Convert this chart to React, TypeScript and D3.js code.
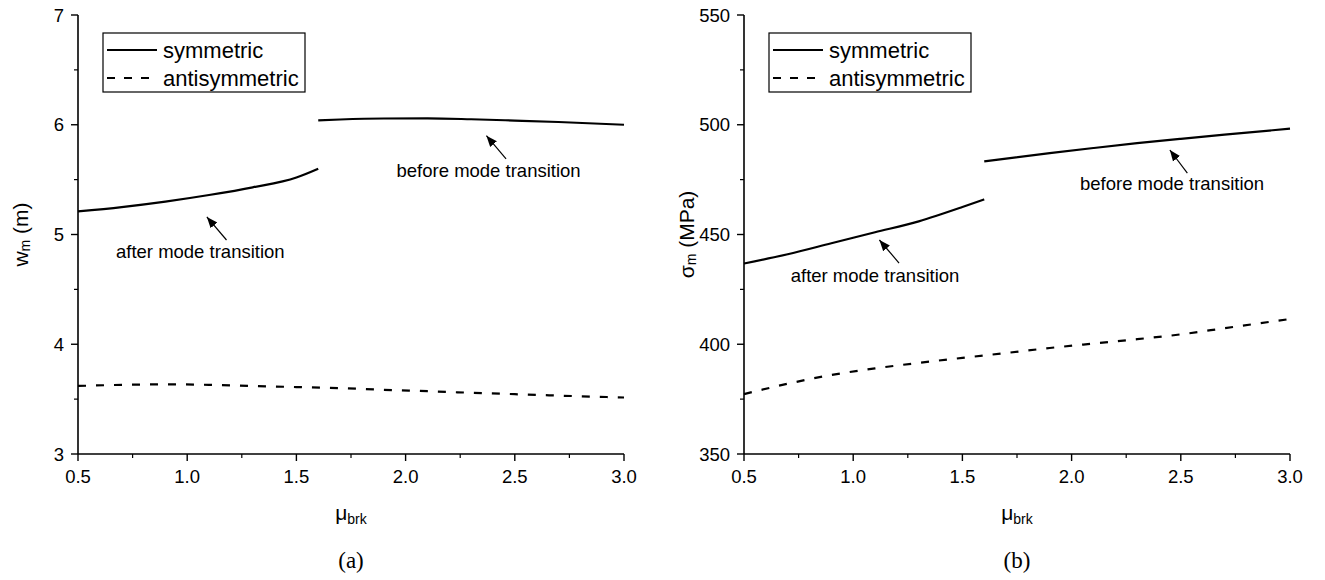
import React from "react";
import * as d3 from "d3";

// Friction coefficient samples for each branch
const muAfter = [0.5, 0.7, 0.9, 1.1, 1.3, 1.5, 1.6];
const muBefore = [1.6, 1.7, 1.9, 2.1, 2.3, 2.5, 2.7, 3.0];
const muAnti = [0.5, 0.7, 0.9, 1.1, 1.3, 1.5, 1.7, 1.9, 2.1, 2.3, 2.5, 2.7, 3.0];

// (a) maximum deflection w_m (m)
const wSymAfter = [5.21, 5.25, 5.3, 5.36, 5.43, 5.52, 5.6];
const wSymBefore = [6.04, 6.048, 6.057, 6.058, 6.05, 6.038, 6.025, 6.0];
const wAnti = [3.62, 3.63, 3.635, 3.63, 3.62, 3.61, 3.6, 3.585, 3.572, 3.558, 3.545, 3.532, 3.515];

// (b) maximum stress σ_m (MPa)
const sSymAfter = [436.8, 441, 446, 451, 456, 462.5, 466];
const sSymBefore = [483.3, 484.6, 487.1, 489.4, 491.6, 493.6, 495.5, 498.2];
const sAnti = [377.3, 382, 386, 389, 391.5, 393.8, 396, 398.3, 400.3, 402.3, 404.5, 407.3, 411.5];

const xTicks = [0.5, 1.0, 1.5, 2.0, 2.5, 3.0];
const xMinor = [0.75, 1.25, 1.75, 2.25, 2.75];
const wTicks = [3, 4, 5, 6, 7];
const wMinor = [3.5, 4.5, 5.5, 6.5];
const sTicks = [350, 400, 450, 500, 550];
const sMinor = [375, 425, 475, 525];

const legendLabels = ["symmetric", "antisymmetric"];

const SANS = "'Liberation Sans', Arial, sans-serif";
const SERIF = "'Liberation Serif', 'Times New Roman', serif";

type Note = { text: string; tx: number; ty: number; x1: number; y1: number; x2: number; y2: number };

type PanelProps = {
  left: number;
  domainY: [number, number];
  yTicks: number[];
  yMinor: number[];
  after: number[];
  before: number[];
  anti: number[];
  yTitle: React.ReactNode;
  tag: string;
  notes: Note[];
  id: string;
};

const TOP = 15;
const BOTTOM = 454;
const WIDTH = 546;

function Panel(p: PanelProps) {
  const x = d3.scaleLinear().domain([0.5, 3.0]).range([p.left, p.left + WIDTH]);
  const y = d3.scaleLinear().domain(p.domainY).range([BOTTOM, TOP]);
  const line = d3
    .line<[number, number]>()
    .x((d) => x(d[0]))
    .y((d) => y(d[1]))
    .curve(d3.curveMonotoneX);
  const zip = (a: number[], b: number[]) => a.map((v, i) => [v, b[i]] as [number, number]);
  const cx = p.left + WIDTH / 2;
  const lx = p.left + 25;

  return (
    <g>
      {/* data curves */}
      <path d={line(zip(muAfter, p.after)) || ""} fill="none" stroke="#000" strokeWidth={2.2} />
      <path d={line(zip(muBefore, p.before)) || ""} fill="none" stroke="#000" strokeWidth={2.2} />
      <path
        d={line(zip(muAnti, p.anti)) || ""}
        fill="none"
        stroke="#000"
        strokeWidth={2.2}
        strokeDasharray="8,10"
      />

      {/* axes */}
      <line x1={p.left} x2={p.left} y1={TOP} y2={BOTTOM} stroke="#000" strokeWidth={1.6} />
      <line x1={p.left} x2={p.left + WIDTH} y1={BOTTOM} y2={BOTTOM} stroke="#000" strokeWidth={1.6} />
      {p.yTicks.map((t) => (
        <g key={"yt" + t}>
          <line x1={p.left - 7} x2={p.left} y1={y(t)} y2={y(t)} stroke="#000" strokeWidth={1.4} />
          <text x={p.left - 14} y={y(t) + 6.5} textAnchor="end" fontSize={18.5} fontFamily={SANS}>
            {t}
          </text>
        </g>
      ))}
      {p.yMinor.map((t) => (
        <line key={"ym" + t} x1={p.left - 4} x2={p.left} y1={y(t)} y2={y(t)} stroke="#000" strokeWidth={1.2} />
      ))}
      {xTicks.map((t) => (
        <g key={"xt" + t}>
          <line x1={x(t)} x2={x(t)} y1={BOTTOM} y2={BOTTOM + 7} stroke="#000" strokeWidth={1.4} />
          <text x={x(t)} y={BOTTOM + 29} textAnchor="middle" fontSize={18.5} fontFamily={SANS}>
            {t.toFixed(1)}
          </text>
        </g>
      ))}
      {xMinor.map((t) => (
        <line key={"xm" + t} x1={x(t)} x2={x(t)} y1={BOTTOM} y2={BOTTOM + 4} stroke="#000" strokeWidth={1.2} />
      ))}

      {/* axis titles */}
      <text x={cx} y={520} textAnchor="middle" fontSize={21} fontFamily={SANS}>
        μ<tspan fontSize={14} dy={4}>brk</tspan>
      </text>
      <text
        transform={`translate(${p.left - 56},${(TOP + BOTTOM) / 2}) rotate(-90)`}
        textAnchor="middle"
        fontSize={21}
        fontFamily={SANS}
        dominantBaseline="middle"
      >
        {p.yTitle}
      </text>
      <text x={cx} y={568} textAnchor="middle" fontSize={23} fontFamily={SERIF}>
        {p.tag}
      </text>

      {/* legend */}
      <rect x={lx} y={33} width={202} height={59} fill="#fff" stroke="#000" strokeWidth={1.2} />
      <line x1={lx + 4} x2={lx + 54} y1={50} y2={50} stroke="#000" strokeWidth={2.2} />
      <line x1={lx + 4} x2={lx + 54} y1={78} y2={78} stroke="#000" strokeWidth={2.2} strokeDasharray="8,9" />
      {legendLabels.map((l, i) => (
        <text key={l} x={lx + 60} y={58 + i * 28} fontSize={22} fontFamily={SANS}>
          {l}
        </text>
      ))}

      {/* annotations */}
      <defs>
        <marker
          id={"arr" + p.id}
          viewBox="0 0 10 10"
          refX={10}
          refY={5}
          markerWidth={11}
          markerHeight={11}
          markerUnits="userSpaceOnUse"
          orient="auto"
        >
          <path d="M0,1 L10,5 L0,9 z" fill="#000" />
        </marker>
      </defs>
      {p.notes.map((n) => (
        <g key={n.text}>
          <line
            x1={x(n.x1)}
            y1={y(n.y1)}
            x2={x(n.x2)}
            y2={y(n.y2)}
            stroke="#000"
            strokeWidth={1.2}
            markerEnd={`url(#arr${p.id})`}
          />
          <text x={x(n.tx)} y={y(n.ty)} textAnchor="middle" fontSize={18.5} fontFamily={SANS}>
            {n.text}
          </text>
        </g>
      ))}
    </g>
  );
}

export default function App() {
  return (
    <div style={{ position: "absolute", left: 0, top: 0 }}>
      <svg width={1325} height={580} style={{ display: "block", background: "#fff" }}>
        <Panel
          id="a"
          left={78}
          domainY={[3, 7]}
          yTicks={wTicks}
          yMinor={wMinor}
          after={wSymAfter}
          before={wSymBefore}
          anti={wAnti}
          tag="(a)"
          yTitle={
            <>
              w<tspan fontSize={14} dy={4}>m</tspan>
              <tspan dy={-4}> (m)</tspan>
            </>
          }
          notes={[
            { text: "before mode transition", tx: 2.38, ty: 5.52, x1: 2.46, y1: 5.69, x2: 2.37, y2: 5.9 },
            { text: "after mode transition", tx: 1.06, ty: 4.79, x1: 1.18, y1: 4.95, x2: 1.09, y2: 5.16 },
          ]}
        />
        <Panel
          id="b"
          left={744}
          domainY={[350, 550]}
          yTicks={sTicks}
          yMinor={sMinor}
          after={sSymAfter}
          before={sSymBefore}
          anti={sAnti}
          tag="(b)"
          yTitle={
            <>
              σ<tspan fontSize={14} dy={4}>m</tspan>
              <tspan dy={-4}> (MPa)</tspan>
            </>
          }
          notes={[
            { text: "before mode transition", tx: 2.46, ty: 470.3, x1: 2.53, y1: 478, x2: 2.45, y2: 488.5 },
            { text: "after mode transition", tx: 1.1, ty: 428.4, x1: 1.21, y1: 437, x2: 1.12, y2: 447.5 },
          ]}
        />
      </svg>
    </div>
  );
}
